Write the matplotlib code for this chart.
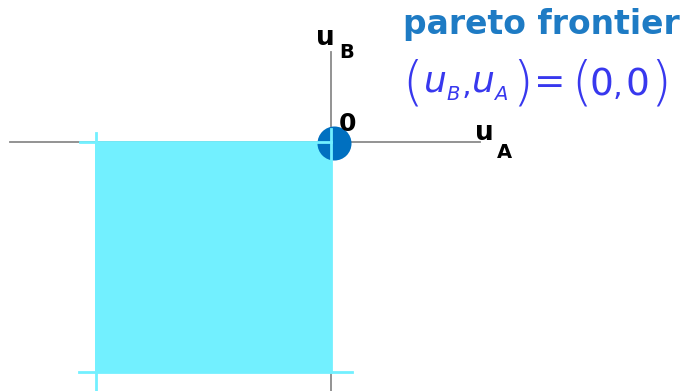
import matplotlib
matplotlib.use("Agg")
import matplotlib.pyplot as plt
from matplotlib.patches import Rectangle
from matplotlib.transforms import Affine2D

# --- data (utility space) ---
disagreement_region_uA = [-1.0, 0.0]
disagreement_region_uB = [-1.0, 0.0]
pareto_point = (0.0, 0.0)
axis_uA_range = [-1.36, 0.63]
axis_uB_range = [-1.09, 0.39]
title_text = "pareto frontier"

W, H = 686, 391
fig = plt.figure(figsize=(W / 100, H / 100), dpi=100)
ax = fig.add_axes([0, 0, 1, 1])
ax.set_xlim(-1.403, 1.504)
ax.set_ylim(-1.083, 0.617)
ax.axis("off")

# pixel-position transform for text placement (top-left origin)
PX = Affine2D().scale(1, -1).translate(0, H)

cyan = "#72F0FF"
gray = "#8a8a8a"

# axes lines
ax.plot(axis_uA_range, [0, 0], color=gray, lw=1.3, zorder=1)
ax.plot([0, 0], axis_uB_range, color=gray, lw=1.3, zorder=1)

# region
x0, x1 = disagreement_region_uA
y0, y1 = disagreement_region_uB
ax.add_patch(Rectangle((x0, y0), x1 - x0, y1 - y0, facecolor=cyan, edgecolor="none", zorder=2))

# extension lines
ax.plot([x0 - 0.065, x1], [y1, y1], color=cyan, lw=2, zorder=4)
ax.plot([x0 + 0.005, x0 + 0.005], [y1 + 0.04, -1.09], color=cyan, lw=2, zorder=4)
ax.plot([x0 - 0.07, x1 + 0.09], [y0, y0], color=cyan, lw=2, zorder=4)
ax.plot([x1, x1], [y1 + 0.055, y0], color=cyan, lw=2, zorder=4)

# pareto point
ax.plot([pareto_point[0] + 0.012], [pareto_point[1] - 0.004], "o", ms=24.5, color="#0070C0",
        mec="none", zorder=3)

# axis labels
bold = dict(fontfamily="DejaVu Sans", fontweight="bold", color="black", transform=PX,
            va="baseline", ha="left")
ax.text(316, 45, "u", fontsize=19, **bold)
ax.text(339, 58, "B", fontsize=14, **bold)
ax.text(339, 131, "0", fontsize=18, **bold)
ax.text(475, 140, "u", fontsize=19, **bold)
ax.text(497, 158, "A", fontsize=14, **bold)

# title
ax.text(403, 34, title_text, fontsize=23.8, fontweight="bold", color="#1E7BC4",
        fontfamily="DejaVu Sans", ha="left", va="baseline", transform=PX)

# equation (u_B, u_A) = (0, 0)
eqc = "#3838EE"
reg = dict(fontfamily="DejaVu Sans", color=eqc, transform=PX, va="baseline", ha="left")
par = dict(fontfamily="DejaVu Sans", fontweight="light", color=eqc, transform=PX,
           va="baseline", ha="left")
ita = dict(fontfamily="DejaVu Sans", style="italic", color=eqc, transform=PX,
           va="baseline", ha="left")
ax.text(402, 99, "(", fontsize=38, **par)
ax.text(424, 92, "u", fontsize=26, **ita)
ax.text(446, 100, "B", fontsize=14, **ita)
ax.text(462, 94, ",", fontsize=22, **reg)
ax.text(472, 92, "u", fontsize=26, **ita)
ax.text(494, 100, "A", fontsize=14, **ita)
ax.text(512, 99, ")", fontsize=38, **par)
ax.text(534, 93, "=", fontsize=27, **reg)
ax.text(571, 99, "(", fontsize=38, **par)
ax.text(590, 95, "0", fontsize=27, **reg)
ax.text(613, 95, ",", fontsize=22, **reg)
ax.text(625, 95, "0", fontsize=27, **reg)
ax.text(650, 99, ")", fontsize=38, **par)

fig.savefig("out.png", dpi=100)
